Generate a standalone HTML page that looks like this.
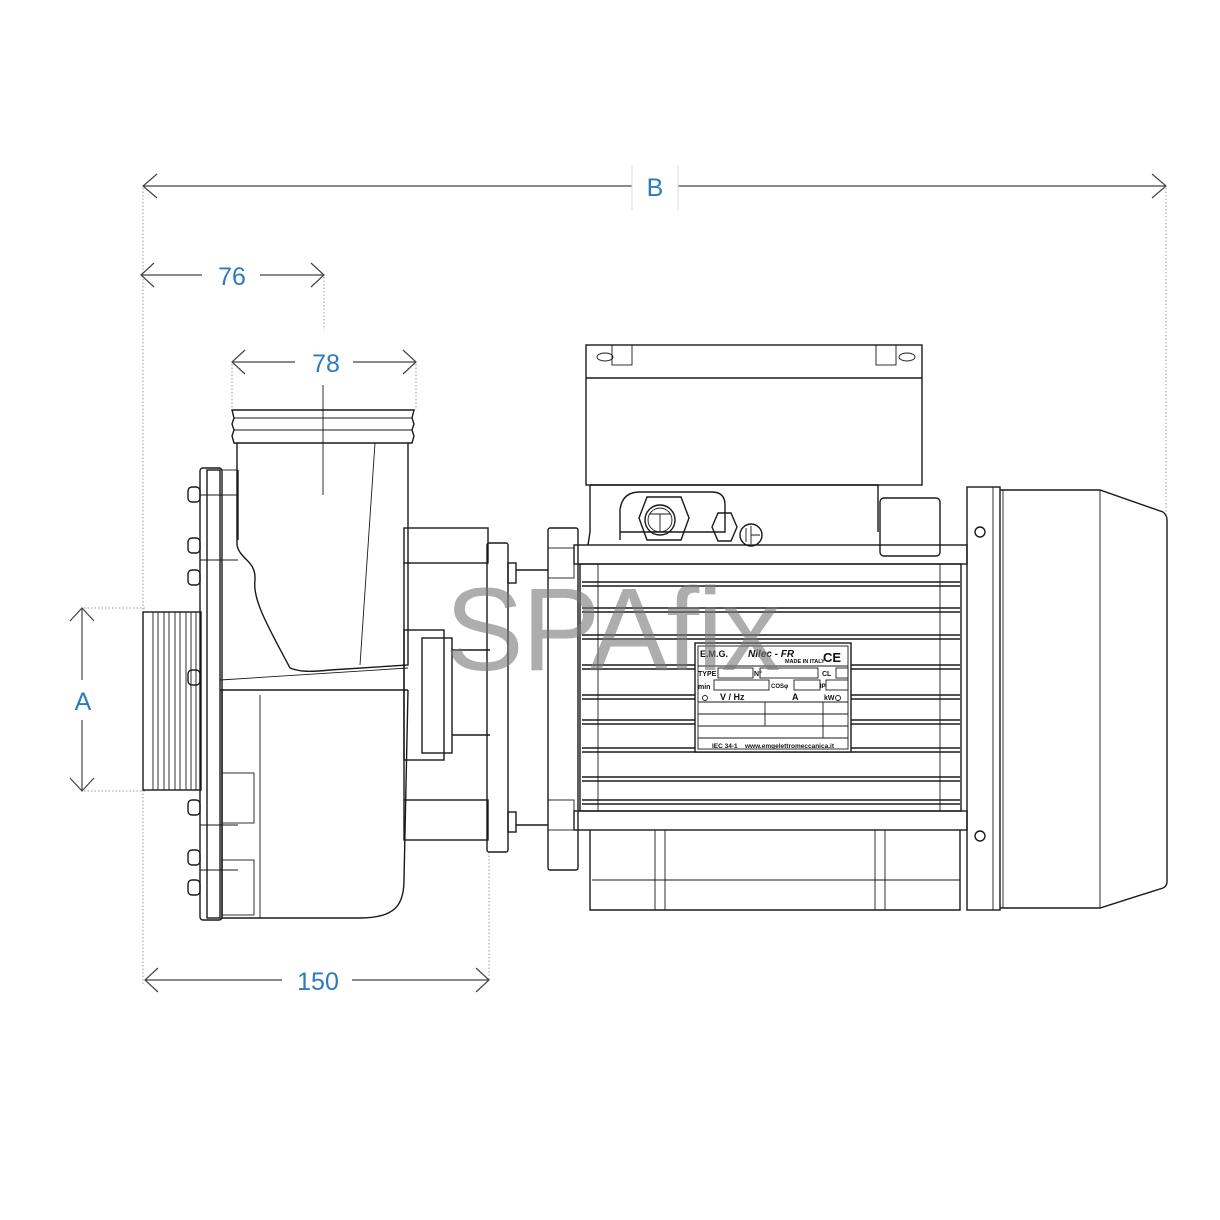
<!DOCTYPE html>
<html><head><meta charset="utf-8"><style>
html,body{margin:0;padding:0;background:#fff}
svg{display:block}
.l{fill:none;stroke:#1a1a1a;stroke-width:1.4}
.t{fill:none;stroke:#1a1a1a;stroke-width:0.9}
.d{fill:none;stroke:#444;stroke-width:1.2}
.e{fill:none;stroke:#999;stroke-width:1;stroke-dasharray:1.5 2}
.n{font-family:"Liberation Sans",sans-serif;fill:#2a7bbf;font-size:25px}
.p{font-family:"Liberation Sans",sans-serif;fill:#111;font-weight:bold}
</style></head><body>
<svg width="1220" height="1220" viewBox="0 0 1220 1220" xmlns="http://www.w3.org/2000/svg">
<rect width="1220" height="1220" fill="#fff"/>
<!-- extension lines -->
<line class="e" x1="143" y1="188" x2="143" y2="985"/>
<line class="e" x1="1166" y1="188" x2="1166" y2="515"/>
<line class="e" x1="324" y1="277" x2="324" y2="330"/>
<line class="e" x1="232" y1="364" x2="232" y2="410"/>
<line class="e" x1="416" y1="364" x2="416" y2="410"/>
<line class="e" x1="489" y1="852" x2="489" y2="980"/>
<line class="e" x1="84" y1="608" x2="145" y2="608"/>
<line class="e" x1="84" y1="791" x2="145" y2="791"/>
<!-- B -->
<line class="d" x1="143" y1="186" x2="632" y2="186"/><line class="d" x1="678" y1="186" x2="1166" y2="186"/>
<polyline class="d" points="157,174 143,186 157,198"/><polyline class="d" points="1152,174 1166,186 1152,198"/>
<line x1="632" y1="165" x2="632" y2="210" stroke="#ddd"/><line x1="678" y1="165" x2="678" y2="210" stroke="#ddd"/>
<text class="n" x="655" y="196" text-anchor="middle">B</text>
<!-- 76 -->
<line class="d" x1="141" y1="275" x2="202" y2="275"/><line class="d" x1="260" y1="275" x2="324" y2="275"/>
<polyline class="d" points="154,263 141,275 154,287"/><polyline class="d" points="311,263 324,275 311,287"/>
<text class="n" x="232" y="285" text-anchor="middle">76</text>
<!-- 78 -->
<line class="d" x1="232" y1="362" x2="295" y2="362"/><line class="d" x1="353" y1="362" x2="416" y2="362"/>
<polyline class="d" points="245,350 232,362 245,374"/><polyline class="d" points="403,350 416,362 403,374"/>
<text class="n" x="326" y="372" text-anchor="middle">78</text>
<line class="t" x1="323" y1="385" x2="323" y2="495"/>
<!-- A -->
<line class="d" x1="82" y1="608" x2="82" y2="680"/><line class="d" x1="82" y1="720" x2="82" y2="791"/>
<polyline class="d" points="70,621 82,608 94,621"/><polyline class="d" points="70,778 82,791 94,778"/>
<text class="n" x="83" y="710" text-anchor="middle">A</text>
<!-- 150 -->
<line class="d" x1="145" y1="980" x2="282" y2="980"/><line class="d" x1="352" y1="980" x2="489" y2="980"/>
<polyline class="d" points="158,968 145,980 158,992"/><polyline class="d" points="476,968 489,980 476,992"/>
<text class="n" x="318" y="990" text-anchor="middle">150</text>

<!-- inlet -->
<rect class="l" x="143" y="612" width="58" height="178"/>
<g class="t">
<line x1="153" y1="612" x2="153" y2="790"/><line x1="158" y1="612" x2="158" y2="790"/>
<line x1="164" y1="612" x2="164" y2="790"/><line x1="169" y1="612" x2="169" y2="790"/>
<line x1="175" y1="612" x2="175" y2="790"/><line x1="180" y1="612" x2="180" y2="790"/>
<line x1="186" y1="612" x2="186" y2="790"/><line x1="191" y1="612" x2="191" y2="790"/>
<line x1="196" y1="612" x2="196" y2="790"/>
</g>
<!-- flange plate -->
<rect class="l" x="200" y="468" width="22" height="452" rx="3"/>
<rect class="l" x="207" y="470" width="13" height="448"/>
<line class="t" x1="222" y1="470" x2="238" y2="470"/>
<line class="l" x1="238" y1="470" x2="238" y2="540"/>
<g class="l">
<rect x="188" y="487" width="12" height="15" rx="4"/><rect x="188" y="538" width="12" height="15" rx="4"/>
<rect x="188" y="570" width="12" height="15" rx="4"/><rect x="188" y="670" width="12" height="15" rx="4"/>
<rect x="188" y="800" width="12" height="15" rx="4"/><rect x="188" y="850" width="12" height="15" rx="4"/>
<rect x="188" y="880" width="12" height="15" rx="4"/>
</g>
<g class="t"><line x1="200" y1="495" x2="238" y2="495"/><line x1="200" y1="560" x2="238" y2="560"/><line x1="200" y1="825" x2="238" y2="825"/><line x1="200" y1="870" x2="238" y2="870"/></g>
<!-- outlet pipe -->
<path class="l" d="M232,410 L414,410 L412,418 L414,424 L412,430 L414,436 L412,443 L234,443 L232,436 L234,430 L232,424 L234,418 Z"/>
<line class="t" x1="234" y1="418" x2="412" y2="418"/><line class="t" x1="234" y1="430" x2="412" y2="430"/>
<path class="l" d="M237,443 L237,545 C240,560 256,560 255,580 C252,600 270,630 290,668 C300,672 310,672 330,670 L408,665 L408,443"/>
<line class="t" x1="375" y1="443" x2="360" y2="665"/>
<line class="t" x1="220" y1="680" x2="408" y2="668"/>
<line class="l" x1="220" y1="690" x2="408" y2="690"/>
<!-- volute -->
<path class="l" d="M222,690 L222,918 L360,918 C395,918 404,905 404,880 L408,690"/>
<line class="t" x1="260" y1="695" x2="260" y2="918"/>
<rect class="t" x="222" y="773" width="32" height="50"/><rect class="t" x="222" y="860" width="32" height="55"/>
<!-- bracket -->
<g class="l">
<rect x="404" y="528" width="84" height="35"/>
<rect x="404" y="800" width="84" height="40"/>
<path d="M404,563 L404,800"/>
<rect x="404" y="630" width="40" height="130"/>
<rect x="422" y="638" width="30" height="115"/>
<line x1="452" y1="650" x2="490" y2="650"/><line x1="452" y1="735" x2="490" y2="735"/>
<rect x="487" y="543" width="21" height="309" rx="2"/>
<rect x="508" y="563" width="8" height="20"/><rect x="508" y="812" width="8" height="20"/>
<line x1="516" y1="570" x2="548" y2="570"/><line x1="516" y1="825" x2="548" y2="825"/>
</g>
<!-- motor front flange -->
<rect class="l" x="548" y="528" width="30" height="342" rx="2"/>
<rect class="t" x="548" y="548" width="26" height="30"/><rect class="t" x="548" y="800" width="26" height="30"/>
<!-- terminal box -->
<rect class="l" x="586" y="345" width="336" height="140"/>
<line class="l" x1="586" y1="378" x2="922" y2="378"/>
<rect class="t" x="612" y="345" width="20" height="20"/><rect class="t" x="876" y="345" width="20" height="20"/>
<ellipse class="t" cx="605" cy="357" rx="8" ry="4"/><ellipse class="t" cx="907" cy="357" rx="8" ry="4"/>
<path class="l" d="M590,485 L590,532 L588,545 M590,485 L878,485 L878,532"/>
<path class="l" d="M620,540 L620,510 Q622,492 640,492 L712,492 Q725,492 725,505 L725,532 L620,532"/>
<polygon class="l" points="647,497 681,497 689,518 681,540 647,540 639,518"/>
<circle class="l" cx="660" cy="520" r="15"/><circle class="t" cx="660" cy="520" r="12"/>
<path class="t" d="M650,514 L670,514 M660,514 L660,532"/>
<polygon class="l" points="718,513 731,513 737,527 731,541 718,541 712,527"/>
<circle class="l" cx="751" cy="535" r="11"/><path class="t" d="M746,528 L746,542 M751,526 L751,544 M751,535 L760,535"/>
<rect class="l" x="880" y="498" width="60" height="58" rx="4"/>
<line class="t" x1="880" y1="545" x2="960" y2="545"/>
<!-- motor body -->
<rect class="l" x="574" y="545" width="393" height="19"/>
<rect class="l" x="574" y="811" width="393" height="19"/>
<rect class="l" x="580" y="564" width="381" height="247"/>
<line class="t" x1="598" y1="564" x2="598" y2="811"/><line class="t" x1="940" y1="564" x2="940" y2="811"/>
<g class="l">
<line x1="582" y1="582" x2="960" y2="582"/><line x1="582" y1="586" x2="960" y2="586"/>
<line x1="582" y1="608" x2="960" y2="608"/><line x1="582" y1="612" x2="960" y2="612"/>
<line x1="582" y1="635" x2="960" y2="635"/><line x1="582" y1="639" x2="960" y2="639"/>
<line x1="582" y1="665" x2="960" y2="665"/><line x1="582" y1="669" x2="960" y2="669"/>
<line x1="582" y1="695" x2="960" y2="695"/><line x1="582" y1="699" x2="960" y2="699"/>
<line x1="582" y1="720" x2="960" y2="720"/><line x1="582" y1="724" x2="960" y2="724"/>
<line x1="582" y1="748" x2="960" y2="748"/><line x1="582" y1="752" x2="960" y2="752"/>
<line x1="582" y1="777" x2="960" y2="777"/><line x1="582" y1="781" x2="960" y2="781"/>
<line x1="582" y1="800" x2="960" y2="800"/><line x1="582" y1="804" x2="960" y2="804"/>
</g>
<!-- feet -->
<path class="l" d="M590,830 L590,910 L960,910 L960,830"/>
<line class="t" x1="592" y1="880" x2="960" y2="880"/>
<rect class="t" x="655" y="830" width="10" height="80"/><rect class="t" x="875" y="830" width="10" height="80"/>
<!-- nameplate -->
<rect x="695" y="643" width="156" height="109" fill="#fff" stroke="#1a1a1a" stroke-width="1.4"/>
<rect class="t" x="698" y="646" width="150" height="103"/>
<text class="p" x="700" y="657" font-size="9">E.M.G.</text>
<text class="p" x="748" y="657" font-size="10" font-style="italic">Nilec - FR</text>
<text class="p" x="785" y="663" font-size="5.5">MADE IN ITALY</text>
<text class="p" x="823" y="662" font-size="13" font-weight="normal">CE</text>
<g class="t">
<line x1="698" y1="666" x2="848" y2="666"/>
<rect x="718" y="668" width="35" height="10"/><rect x="760" y="668" width="58" height="10"/><rect x="836" y="668" width="12" height="10"/>
<rect x="714" y="680" width="55" height="10"/><rect x="794" y="680" width="26" height="10"/><rect x="826" y="680" width="22" height="10"/>
<line x1="698" y1="702" x2="848" y2="702"/><line x1="698" y1="714" x2="848" y2="714"/><line x1="698" y1="726" x2="848" y2="726"/><line x1="698" y1="738" x2="848" y2="738"/>
<line x1="765" y1="702" x2="765" y2="726"/><line x1="823" y1="702" x2="823" y2="738"/>
</g>
<text class="p" x="698" y="676" font-size="7">TYPE</text><text class="p" x="754" y="676" font-size="7">N°</text><text class="p" x="822" y="676" font-size="7">CL</text>
<text class="p" x="698" y="689" font-size="7">min</text><text class="p" x="771" y="688" font-size="6">COSφ</text><text class="p" x="820" y="688" font-size="6">IP</text>
<text class="p" x="720" y="700" font-size="9">V / Hz</text><text class="p" x="792" y="700" font-size="9">A</text><text class="p" x="824" y="700" font-size="7">kW</text>
<circle class="t" cx="705" cy="698" r="2.5"/><circle class="t" cx="838" cy="698" r="2.5"/>
<text class="p" x="712" y="748" font-size="6.5">IEC 34-1</text><text class="p" x="745" y="748" font-size="6.5">www.emgelettromeccanica.it</text>
<!-- fan end -->
<rect class="l" x="967" y="487" width="33" height="423"/>
<line class="t" x1="993" y1="487" x2="993" y2="910"/>
<circle class="l" cx="980" cy="532" r="5"/><circle class="l" cx="980" cy="836" r="5"/>
<path class="l" d="M1000,490 L1100,490 L1163,512 Q1167,515 1167,520 L1167,882 Q1167,886 1163,888 L1100,908 L1000,908"/>
<line class="t" x1="1003" y1="490" x2="1003" y2="908"/><line class="t" x1="1100" y1="490" x2="1100" y2="908"/>
<!-- watermark -->
<text x="445" y="670" font-family="Liberation Sans, sans-serif" font-size="118" fill="#777" fill-opacity="0.6" letter-spacing="-2">SPAfix</text>
</svg>
</body></html>
